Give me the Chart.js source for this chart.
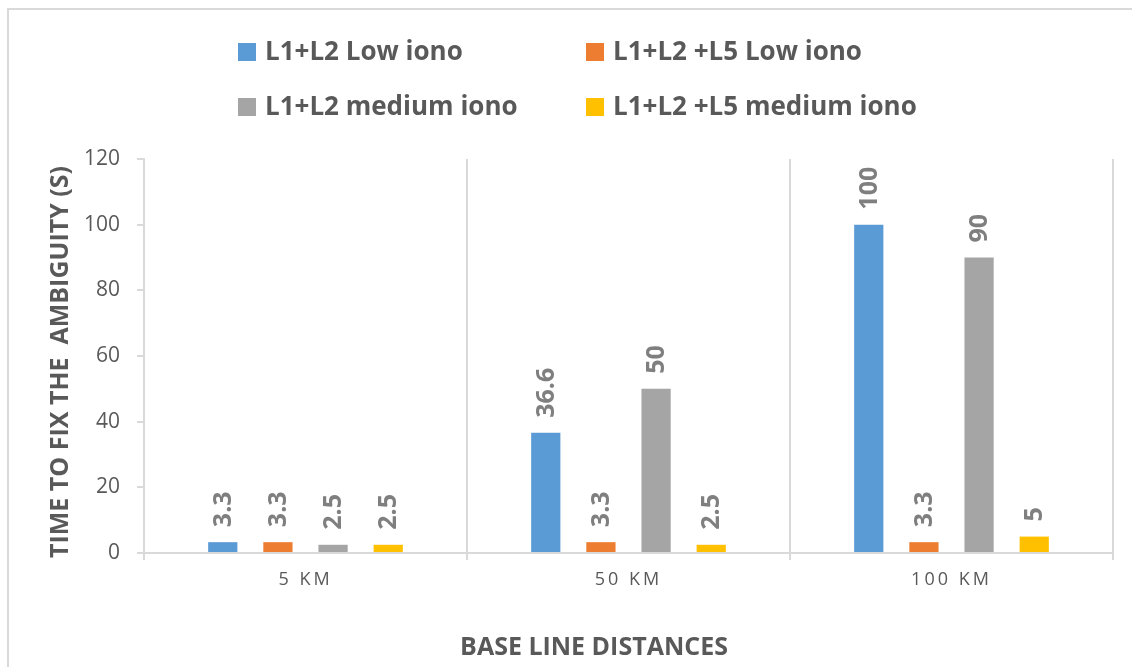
<!DOCTYPE html>
<html>
<head>
<meta charset="utf-8">
<title>Time to fix the ambiguity</title>
<script src="https://cdn.jsdelivr.net/npm/chart.js@4/dist/chart.umd.min.js"></script>
<style>
    body { margin: 0; background: #fff; }
    #wrap { position: relative; width: 1132px; height: 667px; overflow: hidden; }
    #frame { position: absolute; left: 7px; top: 8px; width: 1200px; height: 700px;
             border-left: 2px solid #d9d9d9; border-top: 2px solid #d9d9d9; }
    #timeChart { position: absolute; left: 0; top: 0; }
</style>
</head>
<body>
<div id="wrap">
    <div id="frame"></div>
    <canvas id="timeChart" width="1132" height="667"></canvas>
</div>
<script>
const categories = ['5 KM', '50 KM', '100 KM'];
const seriesLabels = ['L1+L2 Low iono', 'L1+L2 +L5 Low iono', 'L1+L2 medium iono', 'L1+L2 +L5 medium iono'];
const lowIono = [3.3, 36.6, 100];
const l5LowIono = [3.3, 3.3, 3.3];
const mediumIono = [2.5, 50, 90];
const l5MediumIono = [2.5, 2.5, 5];
const seriesColors = ['#5b9bd5', '#ed7d31', '#a5a5a5', '#ffc000'];

const yTitle = 'TIME TO FIX THE  AMBIGUITY (S)';
const xTitle = 'BASE LINE DISTANCES';

const textGray = '#595959';
const gridGray = '#d9d9d9';

// value labels standing up on top of each bar, plus legend and axis titles
const chartText = {
    id: 'chartText',
    afterDatasetsDraw(chart) {
        const ctx = chart.ctx;
        ctx.save();
        ctx.font = 'bold 25px "Open Sans"';
        ctx.fillStyle = '#7f7f7f';
        ctx.textAlign = 'left';
        ctx.textBaseline = 'middle';
        chart.data.datasets.forEach((ds, i) => {
            chart.getDatasetMeta(i).data.forEach((bar, j) => {
                ctx.save();
                ctx.translate(bar.x + 1, bar.y - 15);
                ctx.rotate(-Math.PI / 2);
                ctx.fillText(String(ds.data[j]), 0, 0);
                ctx.restore();
            });
        });
        ctx.restore();
        // x tick labels are drawn after this (ticks.z = 1), spaced out like the original
        ctx.letterSpacing = '3px';
    },
    afterDraw(chart) {
        const ctx = chart.ctx;
        ctx.letterSpacing = '0px';
        ctx.save();

        // legend, two columns
        const cols = [238, 586];
        const rows = [52, 107];
        ctx.font = 'bold 26px "Open Sans"';
        ctx.textAlign = 'left';
        ctx.textBaseline = 'middle';
        chart.data.datasets.forEach((ds, i) => {
            const x = cols[i % 2];
            const y = rows[Math.floor(i / 2)];
            ctx.fillStyle = ds.backgroundColor;
            ctx.fillRect(x, y - 9, 18, 18);
            ctx.fillStyle = textGray;
            ctx.fillText(ds.label, x + 27, y + 1);
        });

        // axis titles
        ctx.fillStyle = textGray;
        ctx.textAlign = 'center';
        ctx.font = 'bold 25px "Open Sans"';
        ctx.save();
        ctx.translate(61, 362);
        ctx.rotate(-Math.PI / 2);
        ctx.fillText(yTitle, 0, 0);
        ctx.restore();

        ctx.font = 'bold 25px "Open Sans"';
        ctx.fillText(xTitle, 594, 648);
        ctx.restore();
    }
};

function makeChart() {
    const ctx = document.getElementById('timeChart').getContext('2d');
    const allSeries = [lowIono, l5LowIono, mediumIono, l5MediumIono];

    new Chart(ctx, {
        type: 'bar',
        data: {
            labels: categories,
            datasets: allSeries.map((values, i) => ({
                label: seriesLabels[i],
                data: values,
                backgroundColor: seriesColors[i],
                borderWidth: 0,
                categoryPercentage: 0.683,
                barPercentage: 0.53
            }))
        },
        options: {
            responsive: false,
            animation: false,
            layout: {
                padding: { top: 159, right: 19, left: 0, bottom: 0 }
            },
            scales: {
                x: {
                    afterFit: scale => { scale.height = 114; },
                    grid: {
                        offset: true,
                        color: gridGray,
                        lineWidth: 2,
                        tickLength: 7
                    },
                    border: { color: gridGray, width: 2 },
                    ticks: {
                        z: 1,
                        color: textGray,
                        padding: 9,
                        font: { family: '"Open Sans"', size: 18 }
                    }
                },
                y: {
                    min: 0,
                    max: 120,
                    afterFit: scale => { scale.width = 144; },
                    grid: {
                        drawOnChartArea: false,
                        color: gridGray,
                        lineWidth: 2,
                        tickLength: 7
                    },
                    border: { color: gridGray, width: 2 },
                    ticks: {
                        stepSize: 20,
                        color: textGray,
                        padding: 17,
                        font: { family: '"Open Sans"', size: 21 }
                    }
                }
            },
            plugins: {
                legend: { display: false },
                tooltip: { enabled: false },
                title: { display: false }
            }
        },
        plugins: [chartText]
    });
}

Promise.all([
    document.fonts.load('bold 26px "Open Sans"'),
    document.fonts.load('20px "Open Sans"')
]).then(makeChart, makeChart);
</script>
</body>
</html>
